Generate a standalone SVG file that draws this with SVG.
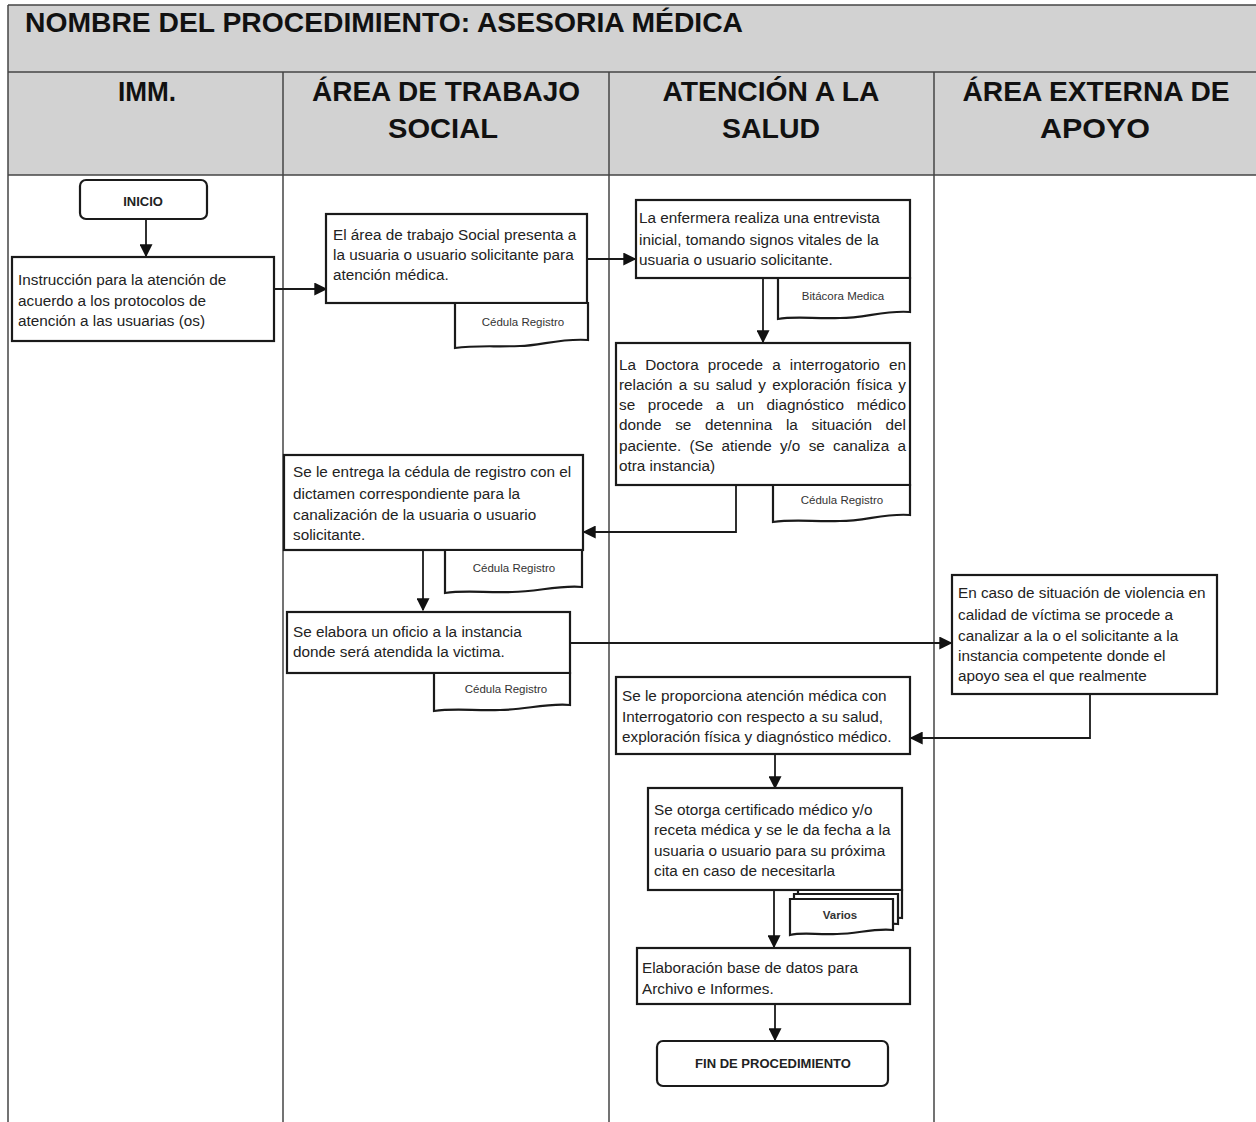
<svg xmlns="http://www.w3.org/2000/svg" width="1256" height="1122" viewBox="0 0 1256 1122">
  <style>
    .hdr { font-family: "Liberation Sans", Arial, sans-serif; font-weight: bold; font-size: 28px; fill: #111; }
    .lane { stroke: #444; stroke-width: 1.5; fill: none; }
    .box { fill: #fff; stroke: #1a1a1a; stroke-width: 2.2; }
    .term { fill: #fff; stroke: #1a1a1a; stroke-width: 2.2; }
    .doc { fill: #fff; stroke: #1a1a1a; stroke-width: 2.2; }
    .t { font-family: "Liberation Sans", Arial, sans-serif; font-size: 15.3px; fill: #222; }
    .tb { font-family: "Liberation Sans", Arial, sans-serif; font-size: 13px; font-weight: bold; fill: #222; text-anchor: middle; }
    .dl { font-family: "Liberation Sans", Arial, sans-serif; font-size: 11.5px; fill: #333; text-anchor: middle; }
    .edge { stroke: #1a1a1a; stroke-width: 1.8; fill: none; }
  </style>
  <defs>
    <marker id="arr" viewBox="0 0 10 10" refX="9" refY="5" markerWidth="13" markerHeight="13" orient="auto" markerUnits="userSpaceOnUse">
      <path d="M0,0 L10,5 L0,10 z" fill="#111"/>
    </marker>
  </defs>

  <!-- page background -->
  <rect x="0" y="0" width="1256" height="1122" fill="#fff"/>

  <!-- header bands -->
  <g id="header">
    <rect x="8" y="5" width="1248" height="170" fill="#d2d2d2"/>
    <line x1="8" y1="5" x2="1256" y2="5" class="lane"/>
    <line x1="8" y1="72" x2="1256" y2="72" class="lane"/>
    <line x1="8" y1="175" x2="1256" y2="175" class="lane"/>
    <text class="hdr" x="25" y="32" textLength="718" lengthAdjust="spacingAndGlyphs">NOMBRE DEL PROCEDIMIENTO: ASESORIA MÉDICA</text>
    <text class="hdr" x="147" y="101" text-anchor="middle" textLength="58" lengthAdjust="spacingAndGlyphs">IMM.</text>
    <text class="hdr" x="446" y="101" text-anchor="middle" textLength="268" lengthAdjust="spacingAndGlyphs">ÁREA DE TRABAJO</text>
    <text class="hdr" x="443" y="138" text-anchor="middle" textLength="110" lengthAdjust="spacingAndGlyphs">SOCIAL</text>
    <text class="hdr" x="771" y="101" text-anchor="middle" textLength="217" lengthAdjust="spacingAndGlyphs">ATENCIÓN A LA</text>
    <text class="hdr" x="771" y="138" text-anchor="middle" textLength="98" lengthAdjust="spacingAndGlyphs">SALUD</text>
    <text class="hdr" x="1096" y="101" text-anchor="middle" textLength="267" lengthAdjust="spacingAndGlyphs">ÁREA EXTERNA DE</text>
    <text class="hdr" x="1095" y="138" text-anchor="middle" textLength="110" lengthAdjust="spacingAndGlyphs">APOYO</text>
  </g>

  <!-- swimlane dividers -->
  <g id="lanes">
    <line x1="8" y1="5" x2="8" y2="1122" class="lane"/>
    <line x1="283" y1="72" x2="283" y2="1122" class="lane"/>
    <line x1="609" y1="72" x2="609" y2="1122" class="lane"/>
    <line x1="934" y1="72" x2="934" y2="1122" class="lane"/>
  </g>

  <!-- connectors -->
  <g id="connectors">
    <line class="edge" x1="146" y1="219" x2="146" y2="256" marker-end="url(#arr)"/>
    <line class="edge" x1="274" y1="289" x2="326" y2="289" marker-end="url(#arr)"/>
    <line class="edge" x1="587" y1="259" x2="635" y2="259" marker-end="url(#arr)"/>
    <line class="edge" x1="763" y1="278" x2="763" y2="342" marker-end="url(#arr)"/>
    <polyline class="edge" points="736,485 736,532 584,532" marker-end="url(#arr)"/>
    <line class="edge" x1="423" y1="550" x2="423" y2="610" marker-end="url(#arr)"/>
    <line class="edge" x1="570" y1="643" x2="951" y2="643" marker-end="url(#arr)"/>
    <polyline class="edge" points="1090,694 1090,738 911,738" marker-end="url(#arr)"/>
    <line class="edge" x1="775" y1="754" x2="775" y2="788" marker-end="url(#arr)"/>
    <line class="edge" x1="774" y1="890" x2="774" y2="947" marker-end="url(#arr)"/>
    <line class="edge" x1="775" y1="1004" x2="775" y2="1040" marker-end="url(#arr)"/>
  </g>

  <!-- INICIO -->
  <g id="inicio">
    <rect class="term" x="80" y="180" width="127" height="39" rx="6"/>
    <text class="tb" x="143" y="206">INICIO</text>
  </g>

  <!-- IMM instruction -->
  <g id="instruccion">
    <rect class="box" x="12" y="257" width="262" height="84"/>
    <text class="t" x="18" y="285">Instrucción para la atención de</text>
    <text class="t" x="18" y="306">acuerdo a los protocolos de</text>
    <text class="t" x="18" y="326">atención a las usuarias (os)</text>
  </g>

  <!-- Trabajo social presenta -->
  <g id="presenta">
    <rect class="box" x="326" y="214" width="261" height="89"/>
    <text class="t" x="333" y="240">El área de trabajo Social presenta a</text>
    <text class="t" x="333" y="260">la usuaria o usuario solicitante para</text>
    <text class="t" x="333" y="280">atención médica.</text>
    <path class="doc" d="M455,303 H588 V340 C560,338 540,346 520,346 C495,347 475,345 455,348 Z"/>
    <text class="dl" x="523" y="326">Cédula Registro</text>
  </g>

  <!-- Enfermera -->
  <g id="enfermera">
    <rect class="box" x="636" y="200" width="274" height="78"/>
    <text class="t" x="639" y="223">La enfermera realiza una entrevista</text>
    <text class="t" x="639" y="245">inicial, tomando signos vitales de la</text>
    <text class="t" x="639" y="265">usuaria o usuario solicitante.</text>
    <path class="doc" d="M778,278 H910 V312 C885,310 865,318 840,318 C815,319 795,316 778,319 Z"/>
    <text class="dl" x="843" y="300">Bitácora Medica</text>
  </g>

  <!-- Doctora (justified paragraph) -->
  <g id="doctora">
    <rect class="box" x="616" y="343" width="294" height="142"/>
    <text class="t" x="619" y="370" word-spacing="4.9" textLength="287" lengthAdjust="spacing">La Doctora procede a interrogatorio en</text>
    <text class="t" x="619" y="390" word-spacing="1.9" textLength="287" lengthAdjust="spacing">relación a su salud y exploración física y</text>
    <text class="t" x="619" y="410" word-spacing="8.4" textLength="287" lengthAdjust="spacing">se procede a un diagnóstico médico</text>
    <text class="t" x="619" y="430" word-spacing="9.4" textLength="287" lengthAdjust="spacing">donde se detennina la situación del</text>
    <text class="t" x="619" y="451" word-spacing="4.0" textLength="287" lengthAdjust="spacing">paciente. (Se atiende y/o se canaliza a</text>
    <text class="t" x="619" y="471">otra instancia)</text>
    <path class="doc" d="M773,485 H910 V515 C885,513 865,521 840,521 C815,522 795,519 773,522 Z"/>
    <text class="dl" x="842" y="504">Cédula Registro</text>
  </g>

  <!-- Entrega cedula -->
  <g id="entrega">
    <rect class="box" x="284" y="455" width="299" height="95"/>
    <text class="t" x="293" y="477">Se le entrega la cédula de registro con el</text>
    <text class="t" x="293" y="499">dictamen correspondiente para la</text>
    <text class="t" x="293" y="520">canalización de la usuaria o usuario</text>
    <text class="t" x="293" y="540">solicitante.</text>
    <path class="doc" d="M445,550 H582 V587 C557,585 537,592 512,592 C487,593 465,590 445,593 Z"/>
    <text class="dl" x="514" y="572">Cédula Registro</text>
  </g>

  <!-- Oficio -->
  <g id="oficio">
    <rect class="box" x="287" y="612" width="283" height="61"/>
    <text class="t" x="293" y="637">Se elabora un oficio a la instancia</text>
    <text class="t" x="293" y="657">donde será atendida la victima.</text>
    <path class="doc" d="M434,673 H570 V705 C545,703 525,710 500,710 C475,711 455,708 434,711 Z"/>
    <text class="dl" x="506" y="693">Cédula Registro</text>
  </g>

  <!-- Area externa -->
  <g id="canaliza">
    <rect class="box" x="952" y="575" width="265" height="119"/>
    <text class="t" x="958" y="598">En caso de situación de violencia en</text>
    <text class="t" x="958" y="620">calidad de víctima se procede a</text>
    <text class="t" x="958" y="641">canalizar a la o el solicitante a la</text>
    <text class="t" x="958" y="661">instancia competente donde el</text>
    <text class="t" x="958" y="681">apoyo sea  el que realmente</text>
  </g>

  <!-- Atencion medica -->
  <g id="atencion">
    <rect class="box" x="616" y="677" width="294" height="77"/>
    <text class="t" x="622" y="701">Se le proporciona atención médica con</text>
    <text class="t" x="622" y="722">Interrogatorio con respecto a su salud,</text>
    <text class="t" x="622" y="742">exploración física y diagnóstico médico.</text>
  </g>

  <!-- Certificado -->
  <g id="certificado">
    <rect class="box" x="648" y="788" width="254" height="102"/>
    <text class="t" x="654" y="815">Se otorga certificado médico y/o</text>
    <text class="t" x="654" y="835">receta médica y se le da fecha a la</text>
    <text class="t" x="654" y="856">usuaria o usuario para su próxima</text>
    <text class="t" x="654" y="876">cita en caso de necesitarla</text>
    <path class="doc" d="M798,890 H902 V918 C882,916 866,922 846,922 C826,923 812,920 798,923 Z"/>
    <path class="doc" d="M794,894 H898 V924 C878,922 862,928 842,928 C822,929 808,926 794,929 Z"/>
    <path class="doc" d="M790,899 H893 V930 C873,928 857,934 837,934 C817,935 803,932 790,935 Z"/>
    <text class="dl" x="840" y="919" font-weight="bold">Varios</text>
  </g>

  <!-- Base de datos -->
  <g id="basedatos">
    <rect class="box" x="637" y="948" width="273" height="56"/>
    <text class="t" x="642" y="973">Elaboración base de datos para</text>
    <text class="t" x="642" y="994">Archivo e Informes.</text>
  </g>

  <!-- FIN -->
  <g id="fin">
    <rect class="term" x="657" y="1041" width="231" height="45" rx="6"/>
    <text class="tb" x="773" y="1068">FIN DE PROCEDIMIENTO</text>
  </g>
</svg>
